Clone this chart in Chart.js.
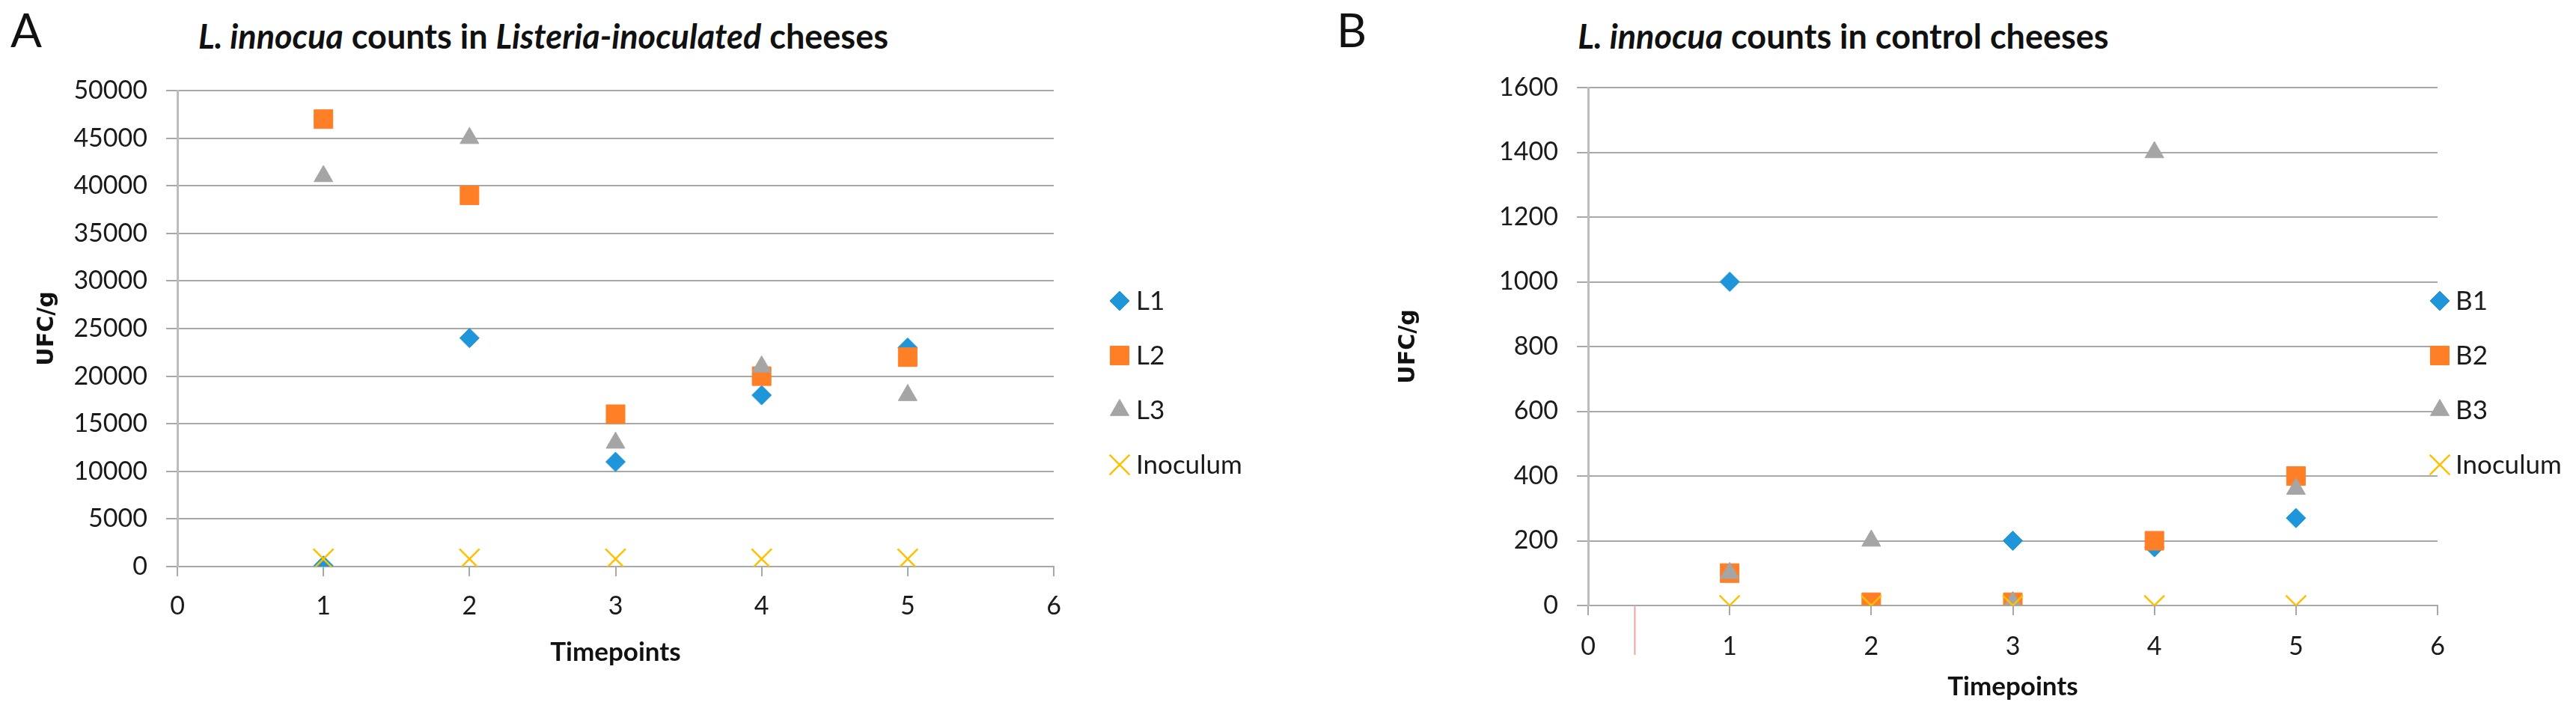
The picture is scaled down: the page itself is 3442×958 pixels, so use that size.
<!DOCTYPE html>
<html>
<head>
<meta charset="utf-8">
<script src="https://cdn.jsdelivr.net/npm/chart.js@4.4.1/dist/chart.umd.min.js"></script>
<style>
  body { margin: 0; background: #fff; width: 3442px; height: 958px; position: relative; overflow: hidden; font-family: Lato, sans-serif; color: #111; }
  canvas { position: absolute; top: 0; }
  .tag { position: absolute; top: 8px; font-size: 62px; line-height: 1; }
  .title { position: absolute; top: 24px; transform: translateX(-50%); white-space: nowrap; font-weight: bold; font-size: 45px; line-height: 48px; }
</style>
</head>
<body>
<div class="tag" style="left:14px">A</div>
<div class="title" style="left:726px"><i>L. innocua</i> counts in <i>Listeria-inoculated</i> cheeses</div>
<div class="tag" style="left:1786px">B</div>
<div class="title" style="left:2463px"><i>L. innocua</i> counts in control cheeses</div>
<canvas id="chartA" width="1720" height="958" style="left:0"></canvas>
<canvas id="chartB" width="1722" height="958" style="left:1720px"></canvas>
<script>
// timepoints on the x axis
const timepoints = [1, 2, 3, 4, 5];

// panel A: Listeria-inoculated cheeses (UFC/g)
const L1 = [100, 24000, 11000, 18000, 23000];
const L2 = [47000, 39000, 16000, 20000, 22000];
const L3 = [41000, 45000, 13000, 21000, 18000];
const inoculumA = [800, 800, 800, 800, 800];

// panel B: control cheeses (UFC/g)
const B1 = [1000, 0, 200, 180, 270];
const B2 = [100, 10, 10, 200, 400];
const B3 = [100, 200, 10, 1400, 360];
const inoculumB = [0, 0, 0, 0, 0];

const BLUE = '#1f96d9', ORANGE = '#ff7f27', GREY = '#a5a5a5', YELLOW = '#ffc000';
const GRID = '#a8a8a8';

Chart.defaults.font.family = 'Lato';
Chart.defaults.color = '#1a1a1a';

const pts = (ys) => timepoints.map((t, i) => ({ x: t, y: ys[i] }));

const series = (labels, values) => {
  const styles = [
    { pointStyle: 'rectRot', pointRadius: 13, backgroundColor: BLUE, borderColor: BLUE, borderWidth: 1 },
    { pointStyle: 'rect', pointRadius: 17.7, backgroundColor: ORANGE, borderColor: ORANGE, borderWidth: 1 },
    { pointStyle: 'triangle', pointRadius: 14.5, backgroundColor: GREY, borderColor: GREY, borderWidth: 1 },
    { pointStyle: 'crossRot', pointRadius: 19, backgroundColor: YELLOW, borderColor: YELLOW, borderWidth: 2.5 },
  ];
  return labels.map((label, i) => ({
    label,
    data: pts(values[i]),
    order: 4 - i, // later series on top, like the original
    pointHoverRadius: styles[i].pointRadius,
    ...styles[i],
  }));
};

// legend drawn on the right side, one item per dataset
const sideLegend = {
  id: 'sideLegend',
  afterDraw(chart, args, opts) {
    const ctx = chart.ctx;
    ctx.save();
    chart.data.datasets.forEach((ds, i) => {
      const y = opts.top + i * opts.gap;
      ctx.fillStyle = ds.backgroundColor;
      ctx.strokeStyle = ds.borderColor;
      ctx.lineWidth = ds.borderWidth;
      Chart.helpers.drawPoint(ctx, { pointStyle: ds.pointStyle, radius: ds.pointRadius, borderWidth: ds.borderWidth, rotation: 0 }, opts.x, y);
      ctx.fillStyle = '#1a1a1a';
      ctx.font = '35px Lato';
      ctx.textBaseline = 'middle';
      ctx.fillText(ds.label, opts.textX, y + 1);
    });
    ctx.restore();
  },
};

// the stray pink stroke under panel B's x axis
const strayMark = {
  id: 'strayMark',
  afterDraw(chart, args, opts) {
    if (!opts.show) return;
    const ctx = chart.ctx;
    const x = chart.scales.x.getPixelForValue(opts.at);
    ctx.save();
    ctx.strokeStyle = '#f4a3a3';
    ctx.lineWidth = 2;
    ctx.beginPath();
    ctx.moveTo(x, chart.chartArea.bottom);
    ctx.lineTo(x, chart.chartArea.bottom + 66);
    ctx.stroke();
    ctx.restore();
  },
};

function makeChart(id, datasets, o) {
  return new Chart(document.getElementById(id), {
    type: 'scatter',
    data: { datasets },
    plugins: [sideLegend, strayMark],
    options: {
      responsive: false,
      animation: false,
      layout: { padding: { top: o.top, right: o.right, left: 0, bottom: 0 } },
      plugins: {
        legend: { display: false },
        tooltip: { enabled: false },
        sideLegend: o.legend,
        strayMark: o.stray,
      },
      scales: {
        x: {
          type: 'linear',
          min: 0, max: 6,
          afterFit: (s) => { s.height = o.xHeight; },
          ticks: { stepSize: 1, padding: o.xPad, font: { size: 34 }, color: '#1a1a1a' },
          grid: { drawOnChartArea: false, drawTicks: true, tickLength: 13, color: GRID, lineWidth: 2 },
          border: { color: GRID, width: 2 },
          title: { display: true, text: 'Timepoints', font: { size: 35, weight: 'bold' }, color: '#111', padding: { top: 0, bottom: o.xTitlePad } },
        },
        y: {
          min: 0, max: o.yMax,
          afterFit: (s) => { s.width = o.yWidth; },
          ticks: { stepSize: o.yStep, padding: 25, font: { size: 34 }, color: '#1a1a1a', callback: (v) => String(v) },
          grid: { color: GRID, lineWidth: 2, tickLength: 15 },
          border: { color: '#bdbdbd', width: 3 },
          title: { display: true, text: 'UFC/g', font: { family: 'DejaVu Sans', size: 30, weight: 'bold' }, color: '#111', padding: { top: o.yTitlePad, bottom: 0 } },
        },
      },
    },
  });
}

makeChart('chartA', series(['L1', 'L2', 'L3', 'Inoculum'], [L1, L2, L3, inoculumA]), {
  top: 121, right: 312, xHeight: 201, yWidth: 237, yMax: 50000, yStep: 5000,
  xPad: 20, xTitlePad: 65, yTitlePad: 45,
  legend: { x: 1496, textX: 1518, top: 402, gap: 73 },
  stray: { show: false },
});

makeChart('chartB', series(['B1', 'B2', 'B3', 'Inoculum'], [B1, B2, B3, inoculumB]), {
  top: 117, right: 185, xHeight: 149, yWidth: 402, yMax: 1600, yStep: 200,
  xPad: 22, xTitlePad: 19, yTitlePad: 144,
  legend: { x: 1540, textX: 1561, top: 402, gap: 73 },
  stray: { show: true, at: 0.33 },
});
</script>
</body>
</html>
